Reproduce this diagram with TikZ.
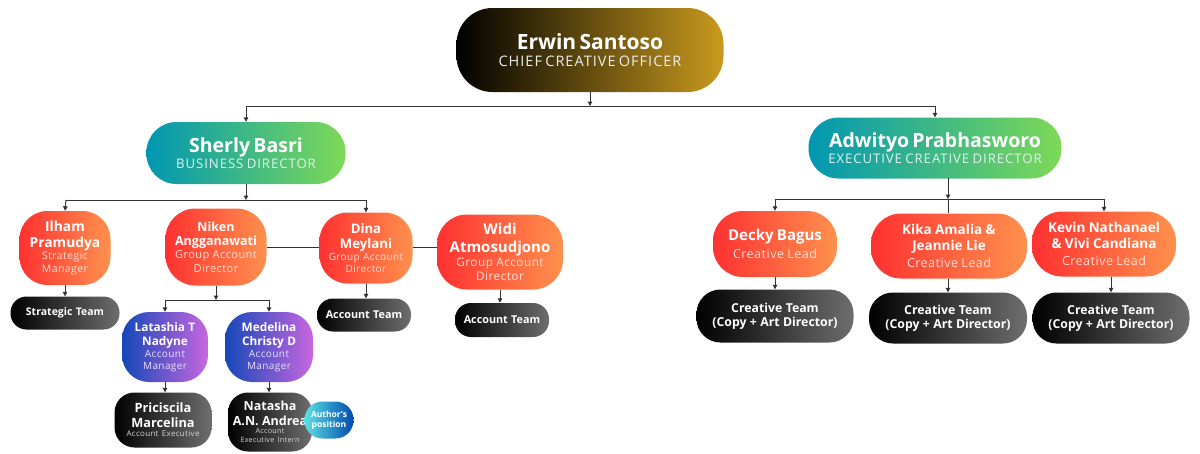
\documentclass[tikz,border=0pt]{standalone}
\usepackage{fontspec}
\setmainfont{Open Sans}
\usetikzlibrary{arrows.meta}
\definecolor{gold}{HTML}{C99A1E}
\definecolor{tealc}{HTML}{0097B2}
\definecolor{greenc}{HTML}{7ED957}
\definecolor{redc}{HTML}{FF3131}
\definecolor{orangec}{HTML}{FF914D}
\definecolor{bluec}{HTML}{1448B8}
\definecolor{purplec}{HTML}{C866E0}
\definecolor{grayc}{HTML}{6E6E6E}
\definecolor{cyanc}{HTML}{5CE1E6}
\definecolor{dblue}{HTML}{004AAD}
\definecolor{linec}{HTML}{333333}
\definecolor{subw}{HTML}{EEEEEE}
\definecolor{subr}{HTML}{FFDDD3}
\definecolor{subt}{HTML}{DDF4F0}
\definecolor{subp}{HTML}{E8E0FF}
\definecolor{subk}{HTML}{D6D6D6}
\newcommand{\nmA}[2]{{\fontsize{#1}{\the\dimexpr #1pt*115/100\relax}\selectfont\bfseries #2\par}}
\newcommand{\sbA}[3]{{\fontsize{#1}{\the\dimexpr #1pt*120/100\relax}\selectfont\addfontfeatures{LetterSpace=4}\color{#2}#3\par}}
\newcommand{\capA}[3]{{\fontsize{#1}{\the\dimexpr #1pt*120/100\relax}\selectfont\addfontfeatures{LetterSpace=7}\color{#2}#3\par}}
\tikzset{
  box/.style={inner sep=0pt, align=center, text=white},
  goldbox/.style={box, left color=black, right color=gold},
  tealbox/.style={box, left color=tealc, right color=greenc},
  redbox/.style={box, left color=redc, right color=orangec},
  purpbox/.style={box, left color=bluec, right color=purplec},
  blkbox/.style={box, left color=black, right color=grayc},
  authbox/.style={box, left color=cyanc, right color=dblue},
  conn/.style={draw=linec, line width=1pt},
  arr/.style={conn, -{Triangle[length=4.5pt,width=4.5pt]}},
}
\begin{document}
\begin{tikzpicture}[x=1pt,y=-1pt]
\useasboundingbox (0,0) rectangle (1200,453);
\fill[white] (0,0) rectangle (1200,453);

% top
\node[goldbox, minimum width=267pt, text width=262pt, minimum height=84pt, rounded corners=36pt] (erwin) at (590,50)
  {\nmA{21}{Erwin Santoso}\capA{14.5}{subw}{CHIEF CREATIVE OFFICER}};

% directors
\node[tealbox, minimum width=199pt, text width=195pt, minimum height=62pt, rounded corners=30pt] (sherly) at (246,153)
  {\nmA{19.5}{Sherly Basri}\capA{13.2}{subt}{BUSINESS DIRECTOR}};
\node[tealbox, minimum width=253pt, text width=249pt, minimum height=61pt, rounded corners=30pt] (adw) at (935,148)
  {\nmA{19.5}{Adwityo Prabhasworo}\capA{13.2}{subt}{EXECUTIVE CREATIVE DIRECTOR}};

% left second level
\node[redbox, minimum width=91pt, text width=91pt, minimum height=74pt, rounded corners=28pt] (ilham) at (65,248)
  {\nmA{13.8}{Ilham\\Pramudya}\sbA{10.5}{subr}{Strategic\\Manager}};
\node[redbox, minimum width=101pt, text width=101pt, minimum height=77pt, rounded corners=30pt] (niken) at (216,247)
  {\nmA{12.5}{Niken\\Angganawati}\sbA{11}{subr}{Group Account\\Director}};
\node[redbox, minimum width=93pt, text width=93pt, minimum height=71pt, rounded corners=28pt] (dina) at (366,248)
  {\nmA{13.2}{Dina\\Meylani}\sbA{10}{subr}{Group Account\\Director}};
\node[redbox, minimum width=126pt, text width=124pt, minimum height=75pt, rounded corners=30pt] (widi) at (500,252)
  {\nmA{15}{Widi\\Atmosudjono}\sbA{11.8}{subr}{Group Account\\Director}};

\node[blkbox, minimum width=109pt, text width=107pt, minimum height=33pt, rounded corners=16pt] (strat) at (65,313)
  {\nmA{10.5}{Strategic Team}};
\node[blkbox, minimum width=94pt, text width=92pt, minimum height=33pt, rounded corners=16pt] (acc1) at (364,315)
  {\nmA{10.8}{Account Team}};
\node[blkbox, minimum width=94pt, text width=92pt, minimum height=34pt, rounded corners=16pt] (acc2) at (502,320)
  {\nmA{10.8}{Account Team}};

\node[purpbox, minimum width=86pt, text width=86pt, minimum height=70pt, rounded corners=27pt] (lat) at (165,347)
  {\nmA{11.8}{Latashia T\\Nadyne}\sbA{10}{subp}{Account\\Manager}};
\node[purpbox, minimum width=88pt, text width=88pt, minimum height=70pt, rounded corners=27pt] (med) at (269,347)
  {\nmA{11.8}{Medelina\\Christy D}\sbA{10}{subp}{Account\\Manager}};

\node[blkbox, minimum width=97pt, text width=97pt, minimum height=55pt, rounded corners=20pt] (pric) at (163,420)
  {\nmA{12.8}{Priciscila\\Marcelina}\sbA{8}{subk}{Account Executive}};
\node[blkbox, minimum width=82pt, text width=84pt, minimum height=59pt, rounded corners=20pt] (nat) at (270,422)
  {\nmA{12.5}{Natasha\\A.N. Andrea}\sbA{7.2}{subk}{Account\\Executive Intern}};
\node[authbox, minimum width=49pt, text width=49pt, minimum height=37pt, rounded corners=18pt] (auth) at (329,420)
  {\nmA{8.5}{Author's\\position}};

% right second level
\node[redbox, minimum width=124pt, text width=122pt, minimum height=66pt, rounded corners=30pt] (decky) at (775,244)
  {\nmA{15}{Decky Bagus}\vspace{3pt}\sbA{12.5}{subr}{Creative Lead}};
\node[redbox, minimum width=156pt, text width=154pt, minimum height=65pt, rounded corners=30pt] (kika) at (949,246)
  {\nmA{13.5}{Kika Amalia \&\\Jeannie Lie}\vspace{2pt}\sbA{12.5}{subr}{Creative Lead}};
\node[redbox, minimum width=144pt, text width=142pt, minimum height=65pt, rounded corners=30pt] (kevin) at (1104,244)
  {\nmA{13.5}{Kevin Nathanael\\\& Vivi Candiana}\vspace{2pt}\sbA{12.5}{subr}{Creative Lead}};

\node[blkbox, minimum width=157pt, text width=155pt, minimum height=53pt, rounded corners=24pt] (ct1) at (775,316)
  {\nmA{12.3}{Creative Team\\(Copy + Art Director)}};
\node[blkbox, minimum width=158pt, text width=156pt, minimum height=51pt, rounded corners=24pt] (ct2) at (948,318)
  {\nmA{12.3}{Creative Team\\(Copy + Art Director)}};
\node[blkbox, minimum width=157pt, text width=155pt, minimum height=51pt, rounded corners=24pt] (ct3) at (1111,318)
  {\nmA{12.3}{Creative Team\\(Copy + Art Director)}};

% connectors: top
\coordinate (j0) at (590,106);
\coordinate (j0l) at (246,106);
\coordinate (j0r) at (935,106);
\draw[arr] (erwin.south) -- (j0);
\draw[conn] (j0l) -- (j0r);
\draw[arr] (j0l) -- (sherly.north);
\draw[arr] (j0r) -- (adw.north);

% left
\coordinate (j1) at (246,200);
\coordinate (j1l) at (66,200);
\coordinate (j1r) at (366,200);
\draw[arr] (sherly.south) -- (j1);
\draw[conn] (j1l) -- (j1r);
\draw[arr] (j1l) -- (ilham.north);
\draw[arr] (j1r) -- (dina.north);
\draw[conn] (niken.east) -- (dina.west |- niken.east);
\draw[conn] (dina.east |- niken.east) -- (widi.west |- niken.east);
\draw[arr] (ilham.south) -- (strat.north);
\draw[arr] (dina.south) -- (acc1.north -| dina.south);
\draw[arr] (widi.south) -- (acc2.north -| widi.south);

\coordinate (j2) at (216,300);
\coordinate (j2l) at (165,300);
\coordinate (j2r) at (269,300);
\draw[arr] (niken.south) -- (j2);
\draw[conn] (j2l) -- (j2r);
\draw[arr] (j2l) -- (lat.north);
\draw[arr] (j2r) -- (med.north);
\draw[arr] (lat.south) -- (lat.south |- pric.north);
\draw[arr] (med.south) -- (med.south |- nat.north);

% right
\coordinate (adwb) at (948,178);
\coordinate (j3) at (948,199);
\coordinate (j3l) at (775,199);
\coordinate (j3r) at (1104,199);
\draw[arr] (adwb) -- (j3);
\draw[conn] (j3) -- (kika.north -| j3);
\draw[conn] (j3l) -- (j3r);
\draw[arr] (j3l) -- (decky.north);
\draw[arr] (j3r) -- (kevin.north);
\draw[arr] (decky.south) -- (ct1.north);
\draw[arr] (kika.south -| ct2.north) -- (ct2.north);
\draw[arr] (ct3.north |- kevin.south) -- (ct3.north);
\end{tikzpicture}
\end{document}
